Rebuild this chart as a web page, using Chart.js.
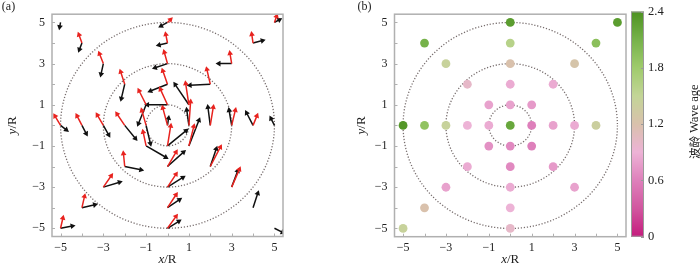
<!DOCTYPE html>
<html><head><meta charset="utf-8">
<script src="https://cdn.jsdelivr.net/npm/chart.js@4.4.0/dist/chart.umd.min.js"></script>
<style>
html,body{margin:0;padding:0;background:#fff;}
#wrap{position:relative;width:700px;height:267px;overflow:hidden;background:#fff;}
canvas{position:absolute;top:0;}
</style></head><body>
<div id="wrap">
<canvas id="ca" width="300" height="267" style="left:0;width:300px;height:267px"></canvas>
<canvas id="cb" width="291" height="267" style="left:340px;width:291px;height:267px"></canvas>
<canvas id="cc" width="69" height="267" style="left:631px;width:69px;height:267px"></canvas>
</div>
<script>
// ---------------- data ----------------
// panel (a): grid points and vectors (wind = red, wave = black), in x/R, y/R units
const pointX = [-5,0,5, -4,0,4, -3,0,3, -2,0,2, -1,0,1, -5,-4,-3,-2,-1,0,1,2,3,4,5, -1,0,1, -2,0,2, -3,0,3, -4,0,4, -5,0,5];
const pointY = [5,5,5, 4,4,4, 3,3,3, 2,2,2, 1,1,1, 0,0,0,0,0,0,0,0,0,0,0, -1,-1,-1, -2,-2,-2, -3,-3,-3, -4,-4,-4, -5,-5,-5];
const windU = [null,0.14,0.10, -0.14,-0.08,-0.06, -0.18,-0.15,-0.08, -0.19,-0.22,-0.16, -0.33,-0.33,-0.15,
  -0.26,-0.23,-0.28,-0.36,-0.20,-0.22,0.08,0.14,0.17,0.18,null, -0.14,0.15,0.23, -0.06,0.40,0.47, 0.37,0.40,0.36, 0.12,0.40,null, 0.11,0.40,null];
const windV = [null,0.14,0.30, 0.40,0.42,0.42, 0.48,0.55,0.50, 0.60,0.65,0.72, 0.68,0.75,1.03,
  0.45,0.46,0.50,0.55,0.72,0.85,1.15,0.88,0.73,0.46,null, 0.68,0.97,0.95, 0.63,0.70,0.94, 0.55,0.63,0.86, 0.55,0.63,null, 0.50,0.58,null];
const waveU = [-0.04,-0.30,0.23, -0.12,-0.40,0.44, -0.11,-0.58,-0.60, -0.16,-0.80,-0.95, -0.36,-0.94,-0.64,
  0.27,0.20,0.25,0.50,0.20,0.05,-0.10,-0.11,-0.12,-0.30,-0.16, 0.92,0.87,0.47, 0.76,0.75,0.28, 0.76,0.72,0.28, 0.60,0.56,0.22, 0.55,0.53,0.38];
const waveV = [-0.22,-0.17,0.13, -0.32,-0.10,0.12, -0.52,-0.20,0.00, -0.70,-0.33,-0.05, -0.92,0.00,0.98,
  -0.22,-0.40,-0.46,-0.64,-0.88,0.35,0.75,0.88,0.73,0.60,0.33, -0.55,0.74,1.25, -0.16,0.70,0.86, 0.24,0.47,0.78, 0.14,0.39,0.70, 0.11,0.34,-0.20];

// panel (b): wave age at grid points
const ageX = [0,5, -4,0,4, -3,0,3, -2,0,2, -1,0,1, -5,-4,-3,-2,-1,0,1,2,3,4, -1,0,1, -2,0,2, -3,0,3, -4,0, -5,0];
const ageY = [5,5, 4,4,4, 3,3,3, 2,2,2, 1,1,1, 0,0,0,0,0,0,0,0,0,0, -1,-1,-1, -2,-2,-2, -3,-3,-3, -4,-4, -5,-5];
const waveAge = [2.3,2.3, 2.1,1.6,1.95, 1.45,1.2,1.25, 1.0,0.85,0.85, 0.8,0.8,0.75,
  2.35,1.9,1.45,0.9,0.85,2.2,0.6,0.8,0.85,1.4, 0.7,0.65,0.6, 0.85,0.65,0.75, 0.8,0.85,0.8, 1.2,0.9, 1.45,1.0];

// axes / ticks
const tickValues = [-5,-3,-1,1,3,5];
const tickLabels = ['−5','−3','−1','1','3','5'];
const circleRadii = [1,3,5];
const cbTickValues = [0,0.6,1.2,1.8,2.4];
const cbTickLabels = ['0','0.6','1.2','1.8','2.4'];
// colormap
const cmapStops = [0,0.3,0.6,0.9,1.2,1.5,1.8,2.1,2.4];
const cmapColors = ['#c51b7d','#d1569f','#de80bb','#edb3d6','#d9c1ac','#c3d597','#9fcb6c','#76b24a','#4d9221'];

// ---------------- helpers ----------------
const SERIF = '"Liberation Serif", "DejaVu Serif", serif';
function hex2rgb(h){return [parseInt(h.substr(1,2),16),parseInt(h.substr(3,2),16),parseInt(h.substr(5,2),16)];}
function cmap(v){
  if (v <= cmapStops[0]) return cmapColors[0];
  for (let i=1;i<cmapStops.length;i++){
    if (v <= cmapStops[i]){
      const t=(v-cmapStops[i-1])/(cmapStops[i]-cmapStops[i-1]);
      const a=hex2rgb(cmapColors[i-1]), b=hex2rgb(cmapColors[i]);
      return 'rgb('+a.map((c,k)=>Math.round(c+(b[k]-c)*t)).join(',')+')';
    }
  }
  return cmapColors[cmapColors.length-1];
}
function tickCb(v){
  const i = tickValues.findIndex(t=>Math.abs(t-v)<1e-6);
  return i>=0 ? tickLabels[i] : '';
}
function drawMixed(ctx, parts, cx, cy){
  let w=0;
  parts.forEach(p=>{ctx.font=p.f; p.w=ctx.measureText(p.t).width; w+=p.w;});
  let x=cx-w/2;
  ctx.textBaseline='middle'; ctx.textAlign='left'; ctx.fillStyle='#222';
  parts.forEach(p=>{ctx.font=p.f; ctx.fillText(p.t,x,cy); x+=p.w;});
}
function arrowData(us, vs){
  const d=[];
  for (let i=0;i<pointX.length;i++){
    if (us[i]===null) continue;
    d.push({x:pointX[i], y:pointY[i]});
    d.push({x:pointX[i]+us[i], y:pointY[i]+vs[i]});
    d.push({x:pointX[i], y:null});
  }
  return d;
}
function headRotation(ctx){
  const i=ctx.dataIndex;
  if (i%3!==1) return 0;
  const d=ctx.dataset.data, a=d[i-1], b=d[i];
  const xs=ctx.chart.scales.x, ys=ctx.chart.scales.y;
  const dx=xs.getPixelForValue(b.x)-xs.getPixelForValue(a.x);
  const dy=ys.getPixelForValue(b.y)-ys.getPixelForValue(a.y);
  return Math.atan2(dx,-dy)*180/Math.PI;
}

// plugin: dotted circles (before datasets), frame + inner ticks + titles (after)
function panelPlugin(letter, letterPos, yTitleX){
  return {
    id:'panel'+letter,
    beforeDatasetsDraw(chart){
      const {ctx, scales:{x,y}} = chart;
      const cx=x.getPixelForValue(0), cy=y.getPixelForValue(0);
      ctx.save();
      ctx.strokeStyle='#776d6d'; ctx.lineWidth=1.3; ctx.setLineDash([1.2,1.8]);
      circleRadii.forEach(r=>{
        const rx=x.getPixelForValue(r)-cx, ry=cy-y.getPixelForValue(r);
        ctx.beginPath(); ctx.ellipse(cx,cy,rx,ry,0,0,Math.PI*2); ctx.stroke();
      });
      ctx.restore();
    },
    afterDraw(chart){
      const {ctx, chartArea:ca, scales:{x,y}} = chart;
      ctx.save();
      ctx.strokeStyle='#b0b0b0'; ctx.lineWidth=1.5;
      ctx.strokeRect(ca.left,ca.top,ca.right-ca.left,ca.bottom-ca.top);
      ctx.lineWidth=1;
      x.ticks.forEach(t=>{ if(Math.abs(t.value-Math.round(t.value))<1e-6){
        const p=Math.round(x.getPixelForValue(t.value))+0.5;
        ctx.beginPath(); ctx.moveTo(p,ca.bottom); ctx.lineTo(p,ca.bottom-3); ctx.stroke();}});
      y.ticks.forEach(t=>{ if(Math.abs(t.value-Math.round(t.value))<1e-6){
        const p=Math.round(y.getPixelForValue(t.value))+0.5;
        ctx.beginPath(); ctx.moveTo(ca.left,p); ctx.lineTo(ca.left+3,p); ctx.stroke();}});
      // texts
      drawMixed(ctx,[{t:'('+letter+')',f:'12px '+SERIF}], letterPos[0], letterPos[1]);
      drawMixed(ctx,[{t:'x',f:'italic 13px '+SERIF},{t:'/R',f:'13px '+SERIF}], x.getPixelForValue(0), 260);
      ctx.translate(yTitleX, (ca.top+ca.bottom)/2);
      ctx.rotate(-Math.PI/2);
      drawMixed(ctx,[{t:'y',f:'italic 13px '+SERIF},{t:'/R',f:'13px '+SERIF}], 0, 0);
      ctx.restore();
    }
  };
}

function axisOpts(isY, fitSize){
  return {
    type:'linear', min:-5.4, max:5.4,
    ticks:{stepSize:1, includeBounds:false, autoSkip:false, maxRotation:0, callback:tickCb, color:'#222',
      font:{family:SERIF, size:12}, padding: isY?7:4},
    grid:{display:false, drawTicks:false},
    border:{display:false},
    afterFit:(s)=>{ if(isY) s.width=fitSize; else s.height=fitSize; }
  };
}
const common = {responsive:false, animation:false, events:[],
  plugins:{legend:{display:false}, tooltip:{enabled:false}}};

// ---------------- panel (a) ----------------
new Chart(document.getElementById('ca'), {
  type:'scatter',
  data:{datasets:[
    {label:'wind', data:arrowData(windU,windV), showLine:true, borderColor:'#e8231f', borderWidth:1.5,
      pointStyle:'triangle', pointRadius:(c)=>c.dataIndex%3===1?3.3:0, pointRotation:headRotation,
      pointBackgroundColor:'#e8231f', pointBorderWidth:0, spanGaps:false},
    {label:'wave', data:arrowData(waveU,waveV), showLine:true, borderColor:'#111', borderWidth:1.5,
      pointStyle:'triangle', pointRadius:(c)=>c.dataIndex%3===1?3.3:0, pointRotation:headRotation,
      pointBackgroundColor:'#111', pointBorderWidth:0, spanGaps:false}
  ]},
  options:Object.assign({}, common, {
    layout:{padding:{left:0,right:17,top:7,bottom:0}},
    scales:{x:axisOpts(false,30.5), y:axisOpts(true,52)}
  }),
  plugins:[panelPlugin('a',[8.5,7],13)]
});

// ---------------- panel (b) ----------------
new Chart(document.getElementById('cb'), {
  type:'scatter',
  data:{datasets:[{label:'wave age', data:ageX.map((x,i)=>({x:x,y:ageY[i]})),
    pointRadius:4.4, pointBorderWidth:0, pointBackgroundColor:waveAge.map(cmap)}]},
  options:Object.assign({}, common, {
    layout:{padding:{left:0,right:5,top:6.7,bottom:0}},
    scales:{x:axisOpts(false,30.3), y:axisOpts(true,54.5)}
  }),
  plugins:[panelPlugin('b',[24.5,6.5],22)]
});

// ---------------- colour bar ----------------
new Chart(document.getElementById('cc'), {
  type:'bar',
  data:{labels:['wave age'], datasets:[{data:[cbTickValues[cbTickValues.length-1]], borderWidth:0,
    barPercentage:1, categoryPercentage:1,
    backgroundColor:(c)=>{
      const ca=c.chart.chartArea; if(!ca) return '#ccc';
      const ys=c.chart.scales.y;
      const g=c.chart.ctx.createLinearGradient(0,ys.getPixelForValue(0),0,ys.getPixelForValue(2.4));
      cmapStops.forEach((s,i)=>g.addColorStop(s/2.4,cmapColors[i]));
      return g;
    }}]},
  options:Object.assign({}, common, {
    layout:{padding:{left:0,right:0,top:6.7,bottom:30.3}},
    scales:{
      x:{display:false},
      y:{position:'right', min:0, max:2.4,
        ticks:{stepSize:0.6, color:'#222', font:{family:SERIF,size:12.5}, padding:4,
          callback:(v)=>{const i=cbTickValues.findIndex(t=>Math.abs(t-v)<1e-6); return i>=0?cbTickLabels[i]:'';}},
        grid:{display:false, drawTicks:false}, border:{display:false},
        afterFit:(s)=>{s.width=56;}}
    }
  }),
  plugins:[{id:'cbdeco', afterDraw(chart){
    const {ctx, chartArea:ca, scales:{y}} = chart;
    ctx.save();
    ctx.strokeStyle='#9a9a9a'; ctx.lineWidth=1;
    ctx.strokeRect(ca.left+0.5,ca.top+0.5,ca.right-ca.left-1,ca.bottom-ca.top-1);
    cbTickValues.forEach(v=>{const p=Math.round(y.getPixelForValue(v))+0.5;
      ctx.beginPath(); ctx.moveTo(ca.right-3,p); ctx.lineTo(ca.right,p); ctx.stroke();});
    ctx.translate(64,121.7); ctx.rotate(-Math.PI/2);
    drawMixed(ctx,[{t:'波龄',f:'11.5px "Noto Sans CJK SC"'},{t:' Wave age',f:'12.5px '+SERIF}],0,0);
    ctx.restore();
  }}]
});
</script>
</body></html>
